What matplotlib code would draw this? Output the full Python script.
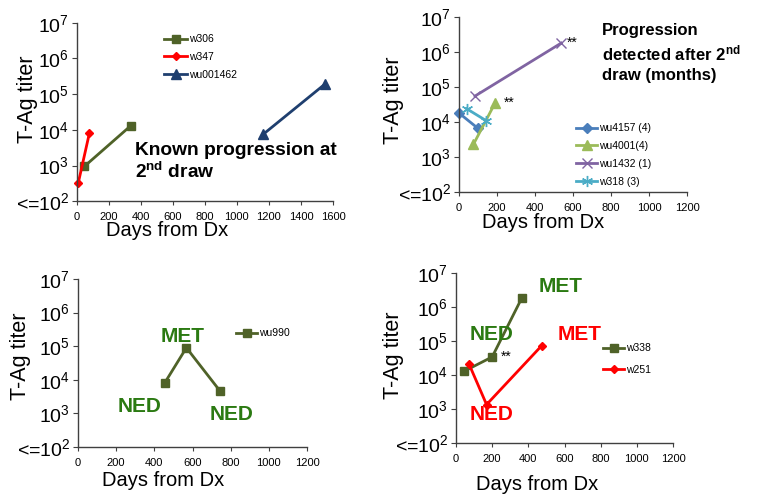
import matplotlib
matplotlib.use('Agg')
import matplotlib.pyplot as plt
import matplotlib.ticker as mticker

plt.rcParams['font.family'] = ['Liberation Sans', 'DejaVu Sans']
plt.rcParams['mathtext.fontset'] = 'custom'
plt.rcParams['mathtext.rm'] = 'Liberation Sans'
plt.rcParams['mathtext.it'] = 'Liberation Sans:italic'
plt.rcParams['mathtext.bf'] = 'Liberation Sans:bold'

# ---- data (days from diagnosis, T-Ag titer) ----
y_ticks = [1e2, 1e3, 1e4, 1e5, 1e6, 1e7]
y_tick_labels = ['<=$10^2$', '$10^3$', '$10^4$', '$10^5$', '$10^6$', '$10^7$']

# panel 1: known progression at 2nd draw
w306_days = [48, 337]
w306_titer = [950, 13000]
w347_days = [10, 79]
w347_titer = [330, 8000]
wu001462_days = [1164, 1549]
wu001462_titer = [7500, 190000]

# panel 2: progression detected after 2nd draw
wu4157_days = [0, 98]
wu4157_titer = [18000, 6700]
wu4001_days = [76, 190]
wu4001_titer = [2300, 35000]
wu1432_days = [84, 538]
wu1432_titer = [55000, 1800000]
w318_days = [40, 142]
w318_titer = [24000, 11000]

# panel 3
wu990_days = [454, 568, 746]
wu990_titer = [8000, 90000, 4500]

# panel 4
w338_days = [46, 200, 363]
w338_titer = [13000, 34000, 1800000]
w251_days = [72, 169, 473]
w251_titer = [21000, 1350, 72000]

OLIVE = '#4F6228'
RED = '#FF0000'
NAVY = '#1F3F6F'
TXT_GREEN = '#2B7A12'

W, H = 760, 500


def fx(x):
    return x / W


def fy(y):
    return 1 - y / H


def make_axes(fig, box, xmax, ylabel_xy, xlabel_xy):
    """box = (left, top, right, bottom) in pixels."""
    l, t, r, b = box
    ax = fig.add_axes([fx(l), fy(b), (r - l) / W, (b - t) / H])
    ax.set_yscale('log')
    ax.set_ylim(1e2, 1e7)
    ax.set_xlim(0, xmax)
    ax.set_xticks(range(0, xmax + 1, 200))
    ax.set_yticks(y_ticks)
    ax.set_yticklabels(y_tick_labels)
    ax.yaxis.set_minor_locator(mticker.NullLocator())
    for s in ['top', 'right']:
        ax.spines[s].set_visible(False)
    for s in ['left', 'bottom']:
        ax.spines[s].set_color('#404040')
        ax.spines[s].set_linewidth(1)
    ax.tick_params(axis='y', labelsize=14, length=3.5, pad=2, color='#404040')
    ax.tick_params(axis='x', labelsize=8, length=3, pad=5, color='#404040')
    ax.set_ylabel('T-Ag titer', fontsize=15.5, va='center')
    ax.yaxis.set_label_coords(fx(ylabel_xy[0]), fy(ylabel_xy[1]), transform=fig.transFigure)
    ax.set_xlabel('Days from Dx', fontsize=14.5, va='center')
    ax.xaxis.set_label_coords(fx(xlabel_xy[0]), fy(xlabel_xy[1]), transform=fig.transFigure)
    return ax


fig = plt.figure(figsize=(7.6, 5.0), dpi=100)

# ---- panel 1 ----
ax1 = make_axes(fig, (76.7, 22.7, 333, 201.3), 1600, (28, 99), (167, 231))
ax1.plot(w306_days, w306_titer, color=OLIVE, lw=2, marker='s', ms=6, label='w306', clip_on=False)
ax1.plot(w347_days, w347_titer, color=RED, lw=2, marker='D', ms=4, label='w347', clip_on=False)
ax1.plot(wu001462_days, wu001462_titer, color=NAVY, lw=2, marker='^', ms=7, label='wu001462', clip_on=False)
ax1.legend(loc='upper left', bbox_to_anchor=(fx(159), fy(29)), bbox_transform=fig.transFigure,
           frameon=False, fontsize=7.5, handlelength=2.2, handletextpad=0.2, borderpad=0,
           labelspacing=0.75)
fig.text(fx(135), fy(142), 'Known progression at\n2$^{\\mathbf{nd}}$ draw', fontsize=13.8,
         fontweight='bold', ha='left', va='top')

# ---- panel 2 ----
ax2 = make_axes(fig, (459, 17, 687, 192), 1200, (394, 100), (543, 223))
ax2.plot(wu4157_days, wu4157_titer, color='#4A7EBB', lw=2, marker='D', ms=5, label='wu4157 (4)', clip_on=False)
ax2.plot(wu4001_days, wu4001_titer, color='#9BBB59', lw=2, marker='^', ms=7, label='wu4001(4)', clip_on=False)
ax2.plot(wu1432_days, wu1432_titer, color='#8064A2', lw=2, marker='x', ms=7, label='wu1432 (1)', clip_on=False)
ax2.plot(w318_days, w318_titer, color='#4BACC6', lw=2, marker=(6, 2, 0), ms=8, label='w318 (3)', clip_on=False)
ax2.annotate('**', (wu4001_days[-1], wu4001_titer[-1]), xytext=(6, 0), textcoords='offset points',
             fontsize=10, va='center')
ax2.annotate('**', (wu1432_days[-1], wu1432_titer[-1]), xytext=(4, 0), textcoords='offset points',
             fontsize=10, va='center')
ax2.legend(loc='upper left', bbox_to_anchor=(fx(571), fy(118)), bbox_transform=fig.transFigure,
           frameon=False, fontsize=7.5, handlelength=2.0, handletextpad=0.2, borderpad=0,
           labelspacing=0.75)
fig.text(fx(602), fy(23), 'Progression\ndetected after 2$^{\\mathbf{nd}}$\ndraw (months)', fontsize=12,
         fontweight='bold', ha='left', va='top', linespacing=1.35)

# ---- panel 3 ----
ax3 = make_axes(fig, (78, 279, 307, 447), 1200, (21, 356), (163, 481))
ax3.plot(wu990_days, wu990_titer, color=OLIVE, lw=2, marker='s', ms=6, label='wu990', clip_on=False)
ax3.legend(loc='upper left', bbox_to_anchor=(fx(231), fy(323)), bbox_transform=fig.transFigure,
           frameon=False, fontsize=7.5, handlelength=2.0, handletextpad=0.2, borderpad=0)
for txt, x, y in [('MET', 183, 335), ('NED', 140, 404), ('NED', 232, 413)]:
    fig.text(fx(x), fy(y), txt, fontsize=15, fontweight='bold', color=TXT_GREEN,
             ha='center', va='center_baseline')

# ---- panel 4 ----
ax4 = make_axes(fig, (456, 273, 673, 443), 1200, (394, 355), (537, 484))
ax4.plot(w338_days, w338_titer, color=OLIVE, lw=2, marker='s', ms=6, label='w338', clip_on=False)
ax4.plot(w251_days, w251_titer, color=RED, lw=2, marker='D', ms=4, label='w251', clip_on=False)
ax4.annotate('**', (w338_days[1], w338_titer[1]), xytext=(6, 0), textcoords='offset points',
             fontsize=10, va='center')
ax4.legend(loc='upper left', bbox_to_anchor=(fx(598), fy(338)), bbox_transform=fig.transFigure,
           frameon=False, fontsize=7.5, handlelength=2.0, handletextpad=0.2, borderpad=0,
           labelspacing=1.1)
for txt, x, y, c in [('MET', 561, 285, TXT_GREEN), ('NED', 492, 333, TXT_GREEN),
                     ('MET', 580, 332, RED), ('NED', 492, 413, RED)]:
    fig.text(fx(x), fy(y), txt, fontsize=15, fontweight='bold', color=c,
             ha='center', va='center_baseline')

fig.savefig('out.png', dpi=100)
